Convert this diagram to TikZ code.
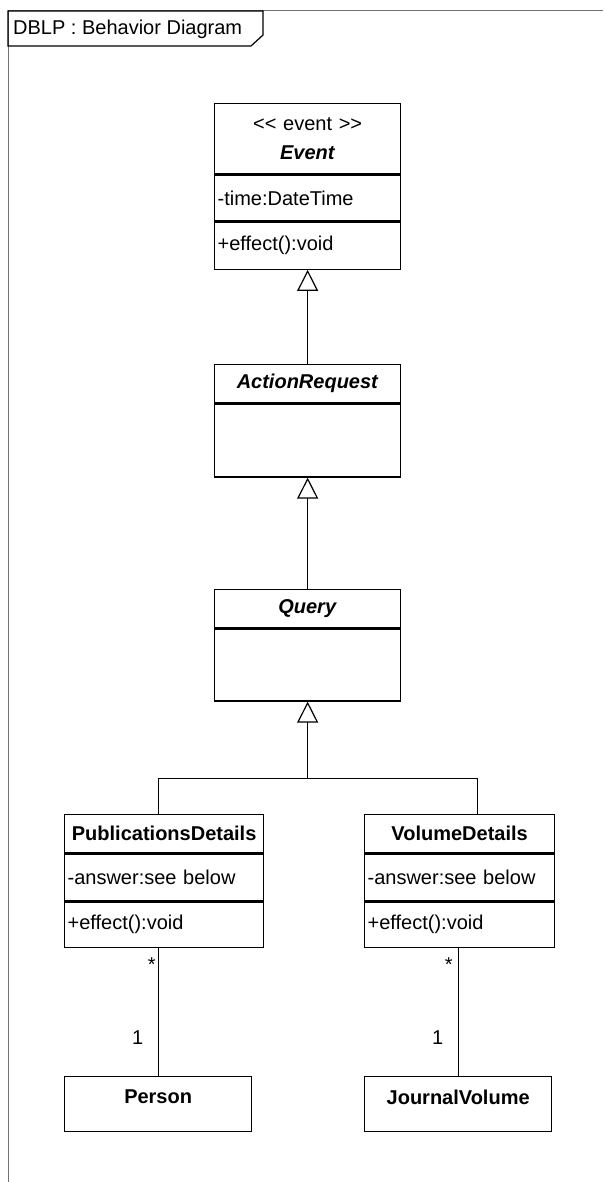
\documentclass[tikz,border=0pt]{standalone}
\usepackage{fontspec}
\setmainfont{Liberation Sans}
\usetikzlibrary{arrows.meta}
\begin{document}
\begin{tikzpicture}[x=1pt,y=-1pt,
  every node/.style={font=\fontsize{20}{24}\selectfont, inner sep=0pt},
  comp/.style={draw, line width=1.3pt, anchor=north west, inner xsep=3pt, inner ysep=0pt},
  hdr/.style={comp, align=center},
  body/.style={comp, align=left},
  framel/.style={draw=black!55, line width=1pt},
  tabl/.style={draw=black, line width=1.2pt},
  gen/.style={line width=1.3pt, -{Triangle[open, length=21pt, width=21pt, line width=1.2pt]}},
  assoc/.style={line width=1.3pt},
  mult/.style={anchor=center}
]
\useasboundingbox (0,0) rectangle (603,1182);
% frame
\draw[framel] (8,1182) -- (8,11) -- (603,11);
\node[anchor=west] (title) at (13,29) {DBLP : Behavior Diagram};
\draw[tabl] (8,11) -- (263,11) -- (263,35) -- (251,46) -- (8,46) -- cycle;

% Event
\node[hdr, text width=180pt, minimum height=70pt, font=\fontsize{20}{29}\selectfont] (eventH) at (214,103)
  {{<}{<} event {>}{>}\\\textbf{\textit{Event}}};
\node[body, text width=180pt, minimum height=46pt] (eventA) at (eventH.south west) {-time:DateTime};
\node[body, text width=180pt, minimum height=47pt] (eventO) at (eventA.south west) {+effect():void};

% ActionRequest
\node[hdr, text width=180pt, minimum height=38pt] (arH) at (214,364) {\textbf{\textit{ActionRequest}}};
\node[body, text width=180pt, minimum height=73pt] (arB) at (arH.south west) {};

% Query
\node[hdr, text width=180pt, minimum height=38pt] (qH) at (214,589) {\textbf{\textit{Query}}};
\node[body, text width=180pt, minimum height=72pt] (qB) at (qH.south west) {};

% PublicationsDetails
\node[hdr, text width=193pt, minimum height=38pt] (pdH) at (64,814) {\textbf{PublicationsDetails}};
\node[body, text width=193pt, minimum height=47pt] (pdA) at (pdH.south west) {-answer:see below};
\node[body, text width=193pt, minimum height=45pt] (pdO) at (pdA.south west) {+effect():void};

% VolumeDetails
\node[hdr, text width=184pt, minimum height=38pt] (vdH) at (364,814) {\textbf{VolumeDetails}};
\node[body, text width=184pt, minimum height=47pt] (vdA) at (vdH.south west) {-answer:see below};
\node[body, text width=184pt, minimum height=45pt] (vdO) at (vdA.south west) {+effect():void};

% Person, JournalVolume
\node[comp, minimum width=187pt, minimum height=55pt] (person) at (64,1076) {};
\node (personN) at ([yshift=-21pt]person.north) {\textbf{Person}};
\node[comp, minimum width=187pt, minimum height=55pt] (jv) at (364,1076) {};
\node (jvN) at ([yshift=-21pt]jv.north) {\textbf{JournalVolume}};

% generalizations
\draw[gen] (arH.north) -- (eventO.south);
\draw[gen] (qH.north) -- (arB.south);
\coordinate (j) at ([yshift=-77pt]qB.south);
\draw[assoc] ([xshift=-5.5pt]pdH.north) |- (j) -| ([xshift=18pt]vdH.north);
\draw[gen] (j) -- (qB.south);

% associations
\draw[assoc] (person.north) -- (person.north |- pdO.south);
\draw[assoc] (jv.north) -- (jv.north |- vdO.south);
\node[mult] (m1a) at ([xshift=-6.5pt,yshift=111pt]person.north) {*};
\node[mult] (m1b) at ([xshift=-20.5pt,yshift=38pt]person.north) {1};
\node[mult] (m2a) at ([xshift=-9.5pt,yshift=111pt]jv.north) {*};
\node[mult] (m2b) at ([xshift=-20.5pt,yshift=38pt]jv.north) {1};
\end{tikzpicture}
\end{document}
